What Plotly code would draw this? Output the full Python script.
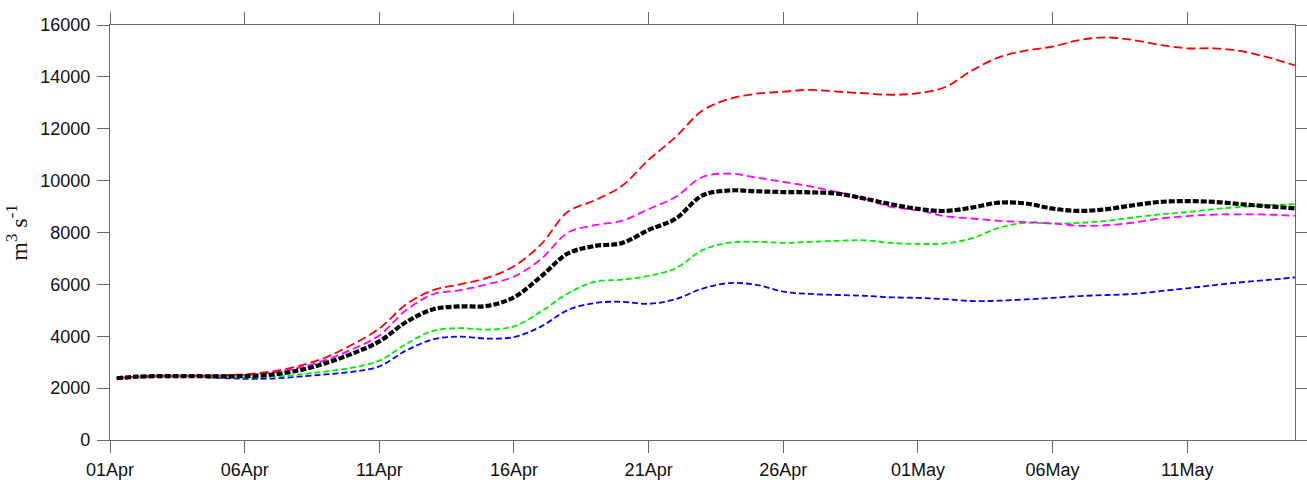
import pandas as pd
import plotly.graph_objects as go

# day offsets from 01 Apr
days = [0.25] + list(range(1, 45))

red = [2380, 2440, 2470, 2475, 2490, 2530, 2640, 2850, 3180, 3680, 4300,
       5230, 5780, 6000, 6250, 6700, 7540, 8800, 9240, 9790, 10800,
       11680, 12700, 13150, 13350, 13430, 13500, 13430, 13370, 13310, 13370,
       13600, 14240, 14750, 15010, 15170, 15420, 15520, 15420, 15230, 15100,
       15100, 14990, 14750, 14440]
magenta = [2380, 2440, 2470, 2470, 2480, 2510, 2590, 2780, 3080, 3500, 4030,
           5010, 5620, 5780, 6000, 6300, 6970, 7990, 8280, 8450, 8900,
           9370, 10140, 10270, 10120, 9950, 9780, 9560, 9310, 8990, 8860,
           8630, 8540, 8450, 8400, 8350, 8260, 8280, 8380, 8540, 8630,
           8690, 8700, 8690, 8640]
black = [2380, 2440, 2465, 2460, 2455, 2460, 2520, 2680, 2960, 3330, 3800,
         4550, 5040, 5150, 5170, 5500, 6300, 7190, 7480, 7590, 8100,
         8530, 9430, 9620, 9590, 9560, 9550, 9500, 9310, 9090, 8910,
         8830, 8960, 9150, 9120, 8920, 8830, 8900, 9050, 9180, 9210,
         9180, 9090, 9010, 8930]
green = [2380, 2440, 2465, 2460, 2430, 2410, 2440, 2520, 2640, 2790, 3060,
         3700, 4210, 4310, 4255, 4380, 4950, 5650, 6100, 6180, 6330,
         6615, 7320, 7610, 7640, 7600, 7640, 7680, 7700, 7600, 7560,
         7580, 7770, 8180, 8370, 8350, 8370, 8450, 8580, 8700, 8790,
         8900, 8985, 9050, 9090]
blue = [2380, 2440, 2450, 2440, 2400, 2360, 2370, 2440, 2530, 2630, 2840,
        3450, 3880, 3985, 3910, 3970, 4370, 5010, 5280, 5330, 5250,
        5430, 5840, 6050, 5980, 5720, 5630, 5590, 5560, 5500, 5480,
        5430, 5360, 5370, 5420, 5480, 5550, 5590, 5630, 5740, 5850,
        5970, 6080, 6170, 6270]

tick_dates = ["2020-04-01", "2020-04-06", "2020-04-11", "2020-04-16", "2020-04-21",
              "2020-04-26", "2020-05-01", "2020-05-06", "2020-05-11"]
tick_labels = ["01Apr", "06Apr", "11Apr", "16Apr", "21Apr", "26Apr", "01May", "06May", "11May"]
y_ticks = [0, 2000, 4000, 6000, 8000, 10000, 12000, 14000, 16000]

start = pd.Timestamp("2020-04-01")
x = [start + pd.Timedelta(days=d) for d in days]

fig = go.Figure()
series = [
    (blue, "#0000ff", 1.8, "6px,3px"),
    (green, "#00ee00", 1.8, "6px,3px"),
    (magenta, "#ff00ff", 1.8, "8px,4px"),
    (red, "#ff0000", 1.8, "9px,4px"),
    (black, "#000000", 4.2, "6px,2px"),
]
for vals, col, w, dash in series:
    fig.add_trace(go.Scatter(x=x, y=vals, mode="lines",
                             line=dict(color=col, width=w, dash=dash, shape="spline", smoothing=1.0),
                             showlegend=False, hoverinfo="skip"))

axis_common = dict(showgrid=False, zeroline=False, showline=True, linecolor="#666666", linewidth=1.3,
                   ticks="outside", ticklen=12, tickwidth=1.3, tickcolor="#666666", mirror="ticks",
                   automargin=False,
                   tickfont=dict(family="Liberation Sans, Arial, sans-serif", size=18, color="#111111"))

fig.update_xaxes(range=["2020-04-01", "2020-05-15"], tickvals=tick_dates, ticktext=tick_labels,
                 ticklabelstandoff=1, **axis_common)
fig.update_yaxes(range=[0, 16000], tickvals=y_ticks, ticktext=[str(v) for v in y_ticks],
                 ticklabelstandoff=3,
                 title=dict(text="m<sup>3</sup> s<sup>-1</sup>",
                            font=dict(family="Liberation Serif, Times New Roman, serif", size=24, color="#111111"),
                            standoff=5),
                 **axis_common)

fig.update_layout(width=1307, height=483, margin=dict(l=110, r=12, t=25, b=43),
                  plot_bgcolor="white", paper_bgcolor="white")

fig.write_html("out.html")
